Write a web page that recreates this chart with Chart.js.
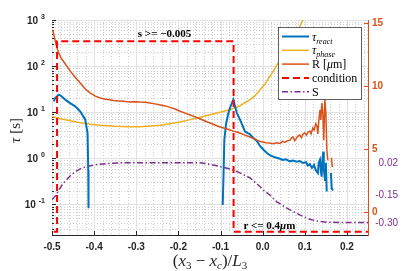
<!DOCTYPE html>
<html>
<head>
<meta charset="utf-8">
<script src="https://cdn.jsdelivr.net/npm/chart.js@4"></script>
<style>
  html, body { margin: 0; padding: 0; background: #fff; }
  #wrap { width: 407px; height: 271px; }
</style>
</head>
<body>
<div id="wrap"><canvas id="chart"></canvas></div>
<script>
// axis ticks
const xTicks = [-0.5, -0.4, -0.3, -0.2, -0.1, 0, 0.1, 0.2];
const tauDecades = [-1, 0, 1, 2, 3];
const radiusTicks = [0, 5, 10, 15];
const sTicks = [0.02, -0.15, -0.30];

// tau_react [s]  (null = gap)
const reactX = [-0.496, -0.492, -0.484, -0.478, -0.4685, -0.457, -0.445, -0.433, -0.421, -0.4156,
    -0.414, -0.4133, -0.25,
    -0.0948, -0.093, -0.091, -0.087, -0.082, -0.0775, -0.0697, -0.0656, -0.0616, -0.0538,
    -0.048, -0.042, -0.030, -0.023, -0.0142, -0.0064, 0.0014, 0.010, 0.017, 0.029,
    0.041, 0.048, 0.055, 0.065, 0.072, 0.0806, 0.088, 0.096, 0.103, 0.107,
    0.112, 0.117, 0.122, 0.126, 0.131, 0.133, 0.136, 0.138, 0.140, 0.142,
    0.144, 0.145, 0.148, 0.150, 0.152, 0.157, 0.162, 0.164, 0.167];
const reactY = [17.2, 20.5, 24, 22.5, 18.7, 15.8, 13.4, 10.4, 6.9, 3.5,
    0.56, 0.083, null,
    0.097, 0.4, 2.5, 5.5, 9, 12.5, 18.7, 13.5, 9.8, 6.9,
    5.2, 3.8, 3.3, 2.8, 2.4, 1.85, 1.55, 1.3, 1.17, 1.05,
    0.98, 0.92, 0.95, 0.86, 0.89, 0.84, 0.87, 0.79, 0.82, 0.7,
    0.75, 0.62, 0.72, 0.55, 0.48, 0.8, 0.93, 0.55, 0.4, 1.0,
    1.4, 0.6, 0.34, 0.8, 0.19, null, 0.48, 0.22, 0.2];

// tau_phase [s]
const phaseX = [-0.498, -0.480, -0.457, -0.433, -0.409, -0.386, -0.350, -0.315, -0.291, -0.267,
    -0.243, -0.220, -0.196, -0.172, -0.149, -0.125, -0.101, -0.078, -0.054, -0.030,
    -0.018, -0.006, 0.006, 0.017, 0.029, 0.041, 0.053, 0.065, 0.077, 0.088, 0.103];
const phaseY = [7.98, 7.2, 6.5, 5.9, 5.5, 5.2, 4.97, 4.85, 4.85, 5.0,
    5.2, 5.6, 6.1, 6.9, 7.8, 8.8, 10.0, 11.3, 13.8, 18.7,
    22.9, 30.8, 41.7, 60, 88, 138, 211, 324, 480, 722, 1400];

// R [um] (right axis)
const radiusX = [-0.498, -0.4945, -0.49, -0.485, -0.478, -0.4685, -0.457, -0.445, -0.433, -0.421,
    -0.409, -0.397, -0.3855, -0.374, -0.362, -0.35, -0.338, -0.326, -0.3145, -0.303,
    -0.291, -0.279, -0.267, -0.255, -0.243, -0.231, -0.22, -0.208, -0.196, -0.184,
    -0.172, -0.16, -0.149, -0.137, -0.125, -0.113, -0.101, -0.089, -0.0775, -0.066,
    -0.054, -0.042, -0.030, -0.02, -0.0135, -0.006, 0.0, 0.008, 0.017, 0.025,
    0.033, 0.041, 0.047, 0.053, 0.059, 0.065, 0.069, 0.072, 0.076, 0.079,
    0.083, 0.088, 0.092, 0.096, 0.100, 0.104, 0.108, 0.112, 0.115, 0.119,
    0.122, 0.126, 0.129, 0.131, 0.133, 0.136, 0.138, 0.1405, 0.143, 0.145,
    0.1476, 0.150, 0.1524, 0.1547, 0.158, 0.163, 0.1654];
const radiusY = [14.44, 13.9, 13.25, 12.7, 12.2, 11.75, 11.2, 10.7, 10.24, 9.76,
    9.44, 9.2, 9.05, 8.95, 8.9, 8.82, 8.8, 8.76, 8.73, 8.75,
    8.72, 8.7, 8.65, 8.58, 8.5, 8.42, 8.3, 8.17, 8.0, 7.85,
    7.7, 7.55, 7.4, 7.22, 7.06, 6.9, 6.75, 6.62, 6.5, 6.38,
    6.27, 6.1, 5.95, 5.8, 5.7, 5.6, 5.55, 5.5, 5.48, 5.42,
    5.5, 5.44, 5.6, 5.52, 5.66, 5.7, 5.9, 5.95, 5.65, 5.8,
    6.0, 6.1, 5.9, 6.2, 6.27, 6.1, 6.35, 6.43, 6.2, 6.67,
    6.5, 7.0, 6.8, 6.2, 7.2, 8.1, 7.3, 8.65, 7.7, 5.7,
    8.9, 7.9, 4.9, 4.1, null, 4.3, 3.57];

// condition (step, left axis)
const condX = [-0.496, -0.488, -0.488, -0.069, -0.069, 0.25];
const condY = [0.0256, 0.0256, 346, 346, 0.0256, 0.0256];

// S (own axis)
const sX = [-0.5, -0.492, -0.485, -0.476, -0.466, -0.457, -0.445, -0.433, -0.421, -0.409,
    -0.397, -0.386, -0.362, -0.338, -0.291, -0.220, -0.149, -0.125, -0.101, -0.082,
    -0.066, -0.049, -0.030, -0.016, -0.006, 0.001, 0.017, 0.033, 0.053, 0.073,
    0.088, 0.112, 0.131, 0.152, 0.183, 0.25];
const sY = [-0.177, -0.156, -0.13, -0.097, -0.071, -0.05, -0.028, -0.012, -0.002, 0.004,
    0.009, 0.013, 0.017, 0.02, 0.021, 0.021, 0.021, 0.012, 0.0, -0.01,
    -0.021, -0.039, -0.06, -0.087, -0.107, -0.124, -0.151, -0.186, -0.215, -0.24,
    -0.257, -0.28, -0.291, -0.296, -0.297, -0.297];

const SANS = '"Liberation Sans", Arial, sans-serif';
const SERIF = '"Liberation Serif", "Times New Roman", serif';
const AXIS_COLOR = '#262626';
const ORANGE = '#D95319';

const pts = (xs, ys) => xs.map((x, i) => ({ x: x, y: ys[i] }));

// draws a run of text pieces: [text, font, dy]
function richText(ctx, parts, x, y, align) {
    let w = 0;
    parts.forEach(p => { ctx.font = p[1]; w += ctx.measureText(p[0]).width; });
    let cx = align === 'center' ? x - w / 2 : (align === 'right' ? x - w : x);
    ctx.textAlign = 'left';
    ctx.textBaseline = 'alphabetic';
    parts.forEach(p => {
        ctx.font = p[1];
        ctx.fillText(p[0], cx, y + (p[2] || 0));
        cx += ctx.measureText(p[0]).width;
    });
}

function hline(ctx, x1, x2, y) { ctx.beginPath(); ctx.moveTo(x1, y); ctx.lineTo(x2, y); ctx.stroke(); }
function vline(ctx, x, y1, y2) { ctx.beginPath(); ctx.moveTo(x, y1); ctx.lineTo(x, y2); ctx.stroke(); }

const decor = {
    id: 'decor',
    beforeDatasetsDraw(chart) {
        const { ctx, chartArea: a, scales } = chart;
        const x = scales.x, y = scales.y, r = scales.yR;
        ctx.save();
        ctx.lineWidth = 1;

        // minor grid, dotted
        ctx.strokeStyle = '#cfcfcf';
        ctx.setLineDash([1, 2]);
        for (let i = -24; i <= 12; i++) {
            if (i % 5 === 0) continue;
            const px = Math.round(x.getPixelForValue(i / 50)) + 0.5;
            vline(ctx, px, a.top, a.bottom);
        }
        for (let d = -2; d <= 2; d++) {
            for (let k = 2; k <= 9; k++) {
                const v = k * Math.pow(10, d);
                if (v < y.min || v > y.max) continue;
                const py = Math.round(y.getPixelForValue(v)) + 0.5;
                hline(ctx, a.left, a.right, py);
            }
        }

        // major grid
        ctx.setLineDash([]);
        ctx.strokeStyle = '#e2e2e2';
        xTicks.forEach(v => {
            const px = Math.round(x.getPixelForValue(v)) + 0.5;
            vline(ctx, px, a.top, a.bottom);
        });
        tauDecades.forEach(d => {
            const py = Math.round(y.getPixelForValue(Math.pow(10, d))) + 0.5;
            hline(ctx, a.left, a.right, py);
        });

        // inward tick marks
        ctx.strokeStyle = AXIS_COLOR;
        xTicks.forEach(v => {
            const px = Math.round(x.getPixelForValue(v)) + 0.5;
            vline(ctx, px, a.bottom, a.bottom - 4);
        });
        for (let d = -2; d <= 3; d++) {
            for (let k = 1; k <= 9; k++) {
                const v = k * Math.pow(10, d);
                if (v < y.min || v > y.max) continue;
                const py = Math.round(y.getPixelForValue(v)) + 0.5;
                hline(ctx, a.left, a.left + (k === 1 ? 4 : 2), py);
            }
        }
        ctx.strokeStyle = ORANGE;
        radiusTicks.forEach(v => {
            const py = Math.round(r.getPixelForValue(v)) + 0.5;
            hline(ctx, a.right - 4, a.right, py);
        });
        ctx.restore();
    },
    afterDraw(chart) {
        const { ctx, chartArea: a, scales } = chart;
        const x = scales.x, y = scales.y, s = scales.yS;
        ctx.save();

        // left tick labels 10^n
        ctx.fillStyle = AXIS_COLOR;
        tauDecades.forEach(d => {
            const py = y.getPixelForValue(Math.pow(10, d));
            ctx.font = 'bold 7px ' + SANS;
            const ew = ctx.measureText(String(d)).width;
            ctx.font = 'bold 10px ' + SANS;
            const bw = ctx.measureText('10').width;
            const right = a.left - 7;
            ctx.textAlign = 'left';
            ctx.textBaseline = 'alphabetic';
            ctx.fillText('10', right - ew - 3 - bw, py + 4);
            ctx.font = 'bold 7px ' + SANS;
            ctx.fillText(String(d), right - ew, py - 1);
        });

        // S tick labels
        ctx.fillStyle = '#7E2F8E';
        ctx.font = '10px ' + SANS;
        ctx.textAlign = 'right';
        ctx.textBaseline = 'middle';
        sTicks.forEach(v => {
            ctx.fillText(v.toFixed(2), a.right + 30, s.getPixelForValue(v));
        });

        // axis titles
        ctx.fillStyle = AXIS_COLOR;
        ctx.save();
        ctx.translate(20, (a.top + a.bottom) / 2 + 3);
        ctx.rotate(-Math.PI / 2);
        richText(ctx, [['\u03C4', 'italic 15px ' + SERIF], [' [s]', '15px ' + SERIF]], 0, 0, 'center');
        ctx.restore();

        const f = '17px ' + SERIF, fi = 'italic 17px ' + SERIF;
        const sub = '11px ' + SERIF, subi = 'italic 11px ' + SERIF;
        richText(ctx, [['(', f], ['x', fi], ['3', sub, 3], [' \u2212 ', f], ['x', fi], ['c', subi, 3],
            [')/', f], ['L', fi], ['3', sub, 3]], (a.left + a.right) / 2, 266, 'center');

        // annotations
        ctx.fillStyle = '#000';
        richText(ctx, [['s >= \u22120.005', 'bold 11px ' + SERIF]],
            x.getPixelForValue(-0.233), y.getPixelForValue(condY[2]) - 4, 'center');
        richText(ctx, [['r <= 0.4', 'bold 11px ' + SERIF], ['\u03BC', 'bold italic 11px ' + SERIF], ['m', 'bold 11px ' + SERIF]],
            x.getPixelForValue(0.016), y.getPixelForValue(condY[0]) - 3, 'center');

        // legend
        const lx = a.right - 90, ly = a.top + 7, lw = 83, lh = 72;
        ctx.fillStyle = '#fff';
        ctx.fillRect(lx, ly, lw, lh);
        ctx.strokeStyle = '#3a3a3a';
        ctx.lineWidth = 0.8;
        ctx.strokeRect(lx + 0.5, ly + 0.5, lw, lh);
        const labels = [
            [['\u03C4', 'italic 12px ' + SERIF], ['react', 'italic 8px ' + SERIF, 3]],
            [['\u03C4', 'italic 12px ' + SERIF], ['phase', 'italic 8px ' + SERIF, 3]],
            [['R [', '12px ' + SERIF], ['\u03BC', 'italic 12px ' + SERIF], ['m]', '12px ' + SERIF]],
            [['condition', '12px ' + SERIF]],
            [['S', '12px ' + SERIF]]
        ];
        chart.data.datasets.forEach((ds, i) => {
            const yy = ly + 9.5 + i * 13.8;
            ctx.strokeStyle = ds.borderColor;
            ctx.lineWidth = ds.borderWidth;
            ctx.setLineDash(ds.borderDash || []);
            hline(ctx, lx + 4, lx + 31, yy);
            ctx.setLineDash([]);
            ctx.fillStyle = '#000';
            richText(ctx, labels[i], lx + 34, yy + 4, 'left');
        });
        ctx.restore();
    }
};

const ctx = document.getElementById('chart').getContext('2d');
const chart = new Chart(ctx, {
    type: 'line',
    data: {
        datasets: [{
            label: 'tau_react',
            data: pts(reactX, reactY),
            yAxisID: 'y',
            borderColor: '#0072BD',
            borderWidth: 2,
            order: 3
        }, {
            label: 'tau_phase',
            data: pts(phaseX, phaseY),
            yAxisID: 'y',
            borderColor: '#EDB120',
            borderWidth: 1.5,
            order: 4
        }, {
            label: 'R [um]',
            data: pts(radiusX, radiusY),
            yAxisID: 'yR',
            borderColor: ORANGE,
            borderWidth: 1.5,
            order: 2
        }, {
            label: 'condition',
            data: pts(condX, condY),
            yAxisID: 'y',
            borderColor: '#FF0000',
            borderWidth: 2,
            borderDash: [7, 4],
            order: 1
        }, {
            label: 'S',
            data: pts(sX, sY),
            yAxisID: 'yS',
            borderColor: '#7E2F8E',
            borderWidth: 1.5,
            borderDash: [6, 2.5, 1.5, 2.5],
            order: 5
        }]
    },
    options: {
        responsive: true,
        maintainAspectRatio: false,
        animation: false,
        spanGaps: false,
        elements: {
            point: { radius: 0 },
            line: { tension: 0, fill: false }
        },
        layout: { padding: { top: 20, left: 0, right: 0, bottom: 0 } },
        plugins: {
            legend: { display: false },
            tooltip: { enabled: false }
        },
        scales: {
            x: {
                type: 'linear',
                position: 'bottom',
                min: -0.5,
                max: 0.25,
                afterBuildTicks: s => { s.ticks = xTicks.map(v => ({ value: v })); },
                afterFit: s => { s.height = 36; },
                grid: { display: false, drawTicks: false },
                border: { color: AXIS_COLOR },
                ticks: {
                    padding: 6,
                    color: AXIS_COLOR,
                    font: { family: SANS, size: 10, weight: 'bold' },
                    maxRotation: 0,
                    callback: v => Number(v).toFixed(1)
                }
            },
            y: {
                type: 'logarithmic',
                position: 'left',
                min: 0.0217,
                max: 1000,
                afterFit: s => { s.width = 52; },
                grid: { display: false, drawTicks: false },
                border: { color: AXIS_COLOR },
                ticks: { display: false }
            },
            yR: {
                type: 'linear',
                position: 'right',
                min: -1.83,
                max: 15.24,
                afterBuildTicks: s => { s.ticks = radiusTicks.map(v => ({ value: v })); },
                afterFit: s => { s.width = 39; },
                grid: { display: false, drawTicks: false },
                border: { color: ORANGE },
                ticks: {
                    padding: 4,
                    color: ORANGE,
                    font: { family: SANS, size: 10, weight: 'bold' }
                }
            },
            yS: {
                type: 'linear',
                position: 'right',
                display: false,
                min: -0.364,
                max: 0.78
            }
        }
    },
    plugins: [decor]
});
</script>
</body>
</html>
